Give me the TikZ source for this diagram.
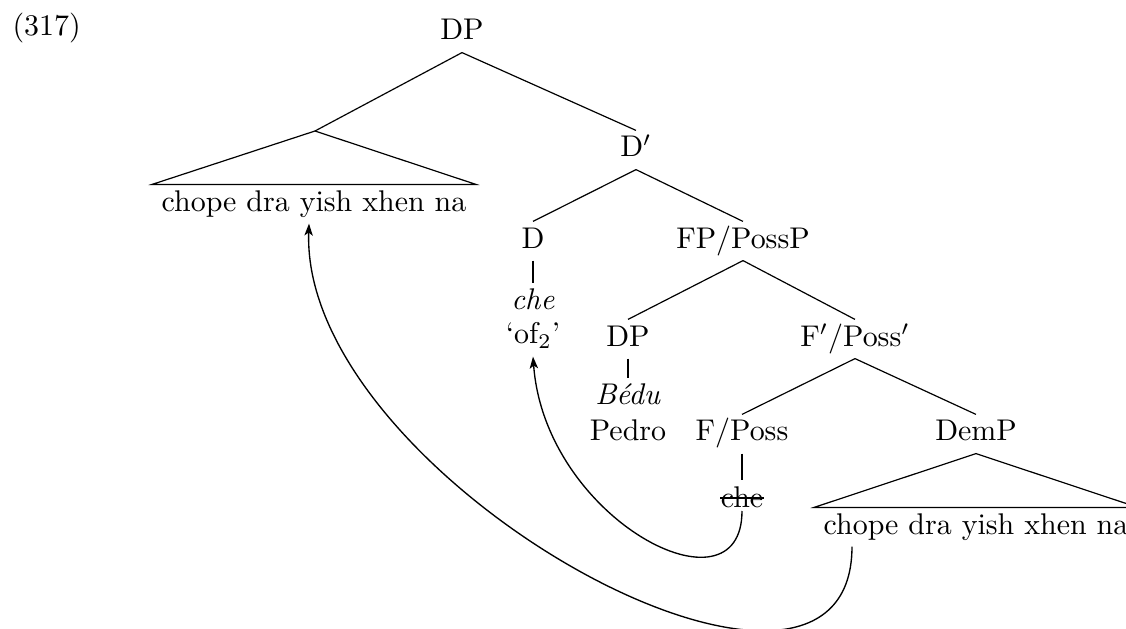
\documentclass[tikz,border=0pt]{standalone}
\usepackage{fontspec}
\usetikzlibrary{calc,arrows.meta}
\begin{document}
\begin{tikzpicture}[x=0.334pt,y=-0.334pt,
  lbl/.style={anchor=base,inner xsep=0pt,inner ysep=1.74pt,text height=6.94pt,text depth=2.27pt},
  rooftext/.style={lbl,inner xsep=3pt},
  branch/.style={line width=0.4pt},
  move/.style={-{Stealth[length=4pt,width=2.8pt,inset=1pt]},line width=0.45pt}]
\useasboundingbox (0,0) rectangle (1126,629);

% example number
\node[anchor=base west,inner sep=0pt] (exno) at (12,36) {(317)};

% labels of the tree
\node[lbl] (dp0)   at (462,40)  {DP};
\coordinate (apexL) at (315,131);
\node[rooftext] (txtL) at (314,211) {chope dra yish xhen na};
\node[lbl] (dbar)  at (636,157) {D$'$};
\node[lbl] (d)     at (533,248) {D};
\node[lbl] (fp)    at (743,248) {FP/PossP};
\node[lbl] (che1)  at (533,310) {\textit{che}};
\node[lbl] (of)    at (533,344) {`of$_2$'};
\node[lbl] (dp2)   at (628,346) {DP};
\node[lbl] (fbar)  at (855,346) {F$'$/Poss$'$};
\node[lbl] (bedu)  at (628,405) {\textit{B\'edu}};
\node[lbl] (pedro) at (628,441) {Pedro};
\node[lbl] (fposs) at (742,441) {F/Poss};
\node[lbl] (demp)  at (976,441) {DemP};
\node[lbl] (che2)  at (742,507) {che};
\node[rooftext] (txtR) at (976,534) {chope dra yish xhen na};

% branches
\draw[branch] (dp0.south) -- (apexL);
\draw[branch] (dp0.south) -- (dbar.north);
\draw[branch] (dbar.south) -- (d.north);
\draw[branch] (dbar.south) -- (fp.north);
\draw[branch] (d.south) -- (che1.north);
\draw[branch] (fp.south) -- (dp2.north);
\draw[branch] (fp.south) -- (fbar.north);
\draw[branch] (dp2.south) -- (bedu.north);
\draw[branch] (fbar.south) -- (fposs.north);
\draw[branch] (fbar.south) -- (demp.north);
\draw[branch] (fposs.south) -- (che2.north);

% roofs
\draw[branch] (apexL) -- (txtL.north west) -- (txtL.north east) -- cycle;
\draw[branch] (demp.south) -- (txtR.north west) -- (txtR.north east) -- cycle;

% deleted copy of che
\draw[branch] ($(che2.base west)+(0,-9)$) -- ($(che2.base east)+(0,-9)$);

% movement arrows
\draw[move] ($(che2.base)+(0,4)$) .. controls (742,621) and (545,520) .. (of.south);
\draw[move] ($(txtR.south)+(-124,0)$) .. controls (852,780) and (300,480) .. ($(txtL.south)+(-5,0)$);
\end{tikzpicture}
\end{document}
